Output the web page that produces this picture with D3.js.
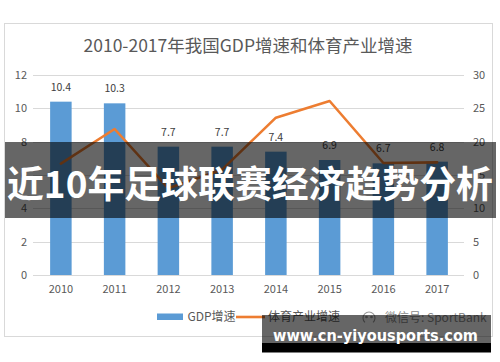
<!DOCTYPE html>
<html><head><meta charset="utf-8">
<script src="https://cdn.jsdelivr.net/npm/d3@7"></script>
<style>body{margin:0;background:#fff}svg{display:block}</style>
</head><body><svg id="c" width="500" height="362"></svg>
<script>
const years = ["2010","2011","2012","2013","2014","2015","2016","2017"];
const gdpGrowth = [10.4,10.3,7.7,7.7,7.4,6.9,6.7,6.8];
const sportsGrowth = [16.7,21.9,13.0,15.8,23.6,26.1,16.8,16.9];
const leftTicks = [0,2,4,6,8,10,12];
const rightTicks = [0,5,10,15,20,25,30];
const titleText = "2010-2017年我国GDP增速和体育产业增速";
const legendLabels = ["GDP增速","体育产业增速"];
const bannerText = "近10年足球联赛经济趋势分析";
const siteText = "www.cn-yiyousports.com";
const wechatText = "微信号: SportBank";

const F = "'Noto Sans CJK SC','Noto Sans',sans-serif";
const svg = d3.select("#c");
const barColor = "#5B9BD5", lineColor = "#ED7D31", textColor = "#595959", gridColor = "#D9D9D9";

// frame
svg.append("rect").attr("x",4.5).attr("y",23.5).attr("width",488).attr("height",313)
  .attr("fill","#fff").attr("stroke",gridColor).attr("stroke-width",1);

// title
svg.append("text").attr("x",248).attr("y",51.5).attr("text-anchor","middle")
  .attr("font-family",F).attr("font-size",17.5).attr("fill",textColor).text(titleText);

const x = d3.scaleBand().domain(years).range([34,464]).paddingInner(0.6).paddingOuter(0.3);
const yL = d3.scaleLinear().domain([0,12]).range([275,75]);
const yR = d3.scaleLinear().domain([0,30]).range([275,75]);

// gridlines
svg.append("g").selectAll("line").data(leftTicks).join("line")
  .attr("x1",33).attr("x2",464).attr("y1",d=>Math.round(yL(d))+0.5).attr("y2",d=>Math.round(yL(d))+0.5)
  .attr("stroke",gridColor).attr("stroke-width",1);

// left axis
const la = svg.append("g").attr("transform","translate(27,0)")
  .call(d3.axisLeft(yL).tickValues(leftTicks).tickSize(0).tickPadding(0));
la.select(".domain").remove();
la.selectAll("text").attr("font-family",F).attr("font-size",11).attr("fill",textColor);

// right axis
const ra = svg.append("g").attr("transform","translate(473,0)")
  .call(d3.axisRight(yR).tickValues(rightTicks).tickSize(0).tickPadding(0));
ra.select(".domain").remove();
ra.selectAll("text").attr("font-family",F).attr("font-size",11).attr("fill",textColor);

// x axis
const xa = svg.append("g").attr("transform","translate(0,275)")
  .call(d3.axisBottom(x).tickSize(0).tickPadding(10));
xa.select(".domain").remove();
xa.selectAll("text").attr("font-family",F).attr("font-size",11).attr("fill",textColor);

// bars
svg.append("g").selectAll("rect").data(gdpGrowth).join("rect")
  .attr("x",(d,i)=>x(years[i])).attr("width",x.bandwidth())
  .attr("y",d=>yL(d)).attr("height",d=>yL(0)-yL(d)).attr("fill",barColor);

// bar labels
svg.append("g").selectAll("text").data(gdpGrowth).join("text")
  .attr("x",(d,i)=>x(years[i])+x.bandwidth()/2).attr("y",d=>yL(d)-11)
  .attr("text-anchor","middle").attr("font-family",F).attr("font-size",10.5).attr("fill","#404040")
  .text(d=>d.toFixed(1));

// line
const line = d3.line().x((d,i)=>x(years[i])+x.bandwidth()/2).y(d=>yR(d));
svg.append("path").datum(sportsGrowth).attr("d",line).attr("fill","none")
  .attr("stroke",lineColor).attr("stroke-width",2.6).attr("stroke-linejoin","round").attr("stroke-linecap","round");

// legend
const lg = svg.append("g");
lg.append("rect").attr("x",157).attr("y",313.5).attr("width",26).attr("height",6.5).attr("fill",barColor);
lg.append("text").attr("x",187.5).attr("y",321).attr("font-family",F).attr("font-size",12).attr("fill",textColor).text(legendLabels[0]);
lg.append("line").attr("x1",236).attr("x2",265).attr("y1",317).attr("y2",317).attr("stroke",lineColor).attr("stroke-width",2.6);
lg.append("text").attr("x",268).attr("y",321).attr("font-family",F).attr("font-size",12).attr("fill",textColor).text(legendLabels[1]);

// wechat watermark
const wg = svg.append("g").attr("fill","none").attr("stroke","#9a9a9a").attr("stroke-width",1.1);
wg.append("path").attr("d",d3.arc()({innerRadius:6,outerRadius:6,startAngle:-2.4,endAngle:2.4})).attr("transform","translate(369,318)");
wg.append("circle").attr("cx",366.5).attr("cy",317).attr("r",0.8).attr("fill","#9a9a9a");
wg.append("circle").attr("cx",371.5).attr("cy",317).attr("r",0.8).attr("fill","#9a9a9a");
svg.append("text").attr("x",385).attr("y",322).attr("font-family",F).attr("font-size",12).attr("fill","#8c8c8c").text(wechatText);

// banner overlay
svg.append("rect").attr("x",5).attr("y",142).attr("width",491).attr("height",76).attr("fill","rgba(0,0,0,0.6)");
svg.append("text").attr("x",7).attr("y",198)
  .attr("font-family",F).attr("font-weight","bold").attr("font-size",37).attr("fill","#fff")
  .attr("textLength",486).attr("lengthAdjust","spacingAndGlyphs").text(bannerText);

// site watermark
svg.append("rect").attr("x",262).attr("y",315).attr("width",229).attr("height",28).attr("fill","rgba(0,0,0,0.6)");
svg.append("rect").attr("x",262).attr("y",343).attr("width",229).attr("height",9.5).attr("fill","#000");
svg.append("text").attr("x",273).attr("y",340.5).attr("font-family","'DejaVu Sans',sans-serif").attr("font-weight","bold")
  .attr("font-size",16).attr("fill","#fff").attr("textLength",205).attr("lengthAdjust","spacingAndGlyphs").text(siteText);
</script></body></html>
